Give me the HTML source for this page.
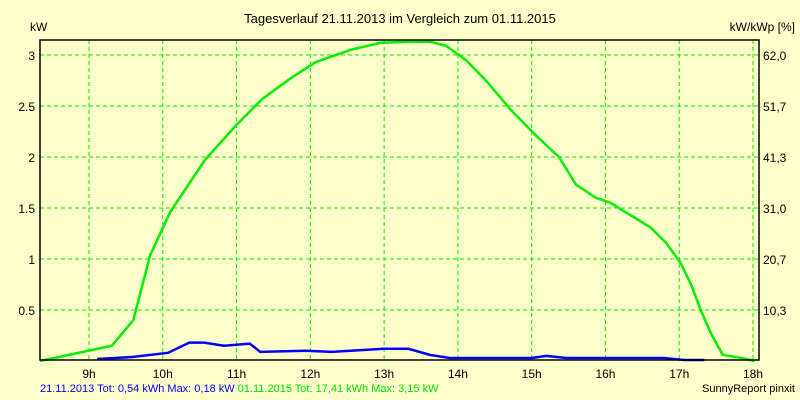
<!DOCTYPE html>
<html><head><meta charset="utf-8"><style>
body{margin:0;background:#ffffcc}
svg{display:block;font-family:"Liberation Sans",sans-serif}
</style></head><body>
<svg width="800" height="400">
<rect x="0" y="0" width="800" height="400" fill="#ffffcc"/>
<text x="400" y="23" font-size="13" text-anchor="middle">Tagesverlauf 21.11.2013 im Vergleich zum 01.11.2015</text>
<text x="30" y="31" font-size="12">kW</text>
<text x="795" y="31" font-size="12" text-anchor="end">kW/kWp [%]</text>
<g id="grid"></g>
<g id="series"></g>
<rect x="40" y="40" width="719" height="320" fill="none" stroke="#000" stroke-width="1.5"/>
<text x="40" y="392" font-size="11"><tspan fill="#0000ff">21.11.2013 Tot: 0,54 kWh Max: 0,18 kW </tspan><tspan fill="#00dd00">01.11.2015 Tot: 17,41 kWh Max: 3,15 kW</tspan></text>
<text x="795" y="392" font-size="11" text-anchor="end">SunnyReport pinxit</text>
</svg>
<script>
const hourTicks=[9,10,11,12,13,14,15,16,17,18];
const kwTicks=[0.5,1,1.5,2,2.5,3];
const pctLabels=["10,3","20,7","31,0","41,3","51,7","62,0"];
const greenT=[8.336,9.31,9.6,9.83,10.1,10.57,10.98,11.35,11.73,12.07,12.54,12.95,13.36,13.63,13.84,14.11,14.38,14.72,15.06,15.37,15.6,15.87,16.07,16.34,16.61,16.82,17.02,17.16,17.29,17.43,17.59,17.84,18.02];
const greenV=[0,0.15,0.40,1.04,1.46,1.97,2.30,2.57,2.77,2.93,3.05,3.12,3.13,3.13,3.09,2.95,2.75,2.46,2.21,2.00,1.73,1.60,1.55,1.43,1.31,1.16,0.96,0.75,0.50,0.27,0.06,0.03,0];
const blueT=[9.11,9.6,10.07,10.36,10.56,10.83,11.18,11.32,11.94,12.29,12.99,13.33,13.62,13.89,15.0,15.2,15.47,16.79,17.07,17.34];
const blueV=[0.02,0.04,0.08,0.18,0.18,0.15,0.17,0.09,0.10,0.09,0.12,0.12,0.06,0.03,0.03,0.05,0.03,0.03,0.01,0.01];
const L=40,R=759,T=40,B=361;
const X=h=>89+(h-9)*73.78;
const Y=v=>B-v*102;
const NS="http://www.w3.org/2000/svg";
const g=document.getElementById('grid'),s=document.getElementById('series');
function mk(tag,at,par){const e=document.createElementNS(NS,tag);for(const k in at)e.setAttribute(k,at[k]);par.appendChild(e);return e;}
hourTicks.forEach(h=>{
 const l=mk('line',{x1:X(h),x2:X(h),y1:T,y2:360,stroke:'#00ee00','stroke-dasharray':'4,3'},g);
 
 
 const t=mk('text',{x:X(h),y:378,'font-size':12,'text-anchor':'middle'},g);
 
 
 t.textContent=h+'h';
});
kwTicks.forEach((v,i)=>{
 const l=mk('line',{x1:L,x2:R,y1:Y(v),y2:Y(v),stroke:'#00ee00','stroke-dasharray':'4,3'},g);
 
 
 const t=mk('text',{x:35,y:Y(v)+5,'font-size':12,'text-anchor':'end'},g);
 
 
 t.textContent=String(v);
 const t2=mk('text',{x:763,y:Y(v)+5,'font-size':12},g);
 
 
 t2.textContent=pctLabels[i];
});
const gp=mk('polyline',{points:greenT.map((t,i)=>X(t)+','+Y(greenV[i])).join(' '),fill:'none',stroke:'#00ee00','stroke-width':2.5},s);


const bp=mk('polyline',{points:blueT.map((t,i)=>X(t)+','+Y(blueV[i])).join(' '),fill:'none',stroke:'#0000ff','stroke-width':2.5},s);


</script>
</body></html>
